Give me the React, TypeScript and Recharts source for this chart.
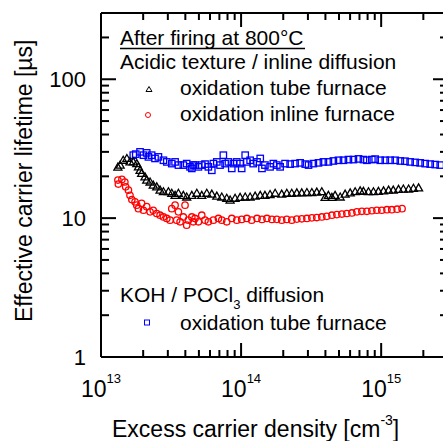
import React from "react";
import {
  ScatterChart,
  Scatter,
  XAxis,
  YAxis,
  ReferenceLine,
  Customized,
} from "recharts";

// Excess carrier density [cm^-3], effective lifetime [µs]
const kohTube: [number, number][] = [
  [1.70e13, 28.4], [1.77e13, 28.9], [1.90e13, 30.0], [2.01e13, 28.4], [2.12e13, 29.5],
  [2.18e13, 27.6], [2.30e13, 28.4], [2.43e13, 26.9], [2.57e13, 27.6], [2.79e13, 26.1],
  [2.95e13, 25.4], [3.20e13, 24.7], [3.38e13, 25.4], [3.57e13, 24.1], [3.87e13, 24.1],
  [4.09e13, 24.7], [4.32e13, 23.4], [4.45e13, 22.8], [4.56e13, 24.1], [4.69e13, 24.1],
  [4.96e13, 23.4], [5.24e13, 24.1], [5.53e13, 24.5], [5.84e13, 23.4], [6.18e13, 22.1],
  [6.34e13, 24.7], [6.71e13, 25.4], [7.08e13, 24.1], [7.47e13, 28.4], [7.69e13, 24.7],
  [8.12e13, 25.4], [8.58e13, 22.8], [8.81e13, 24.7], [9.32e13, 25.4], [9.84e13, 24.7],
  [1.01e14, 22.8], [1.07e14, 28.4], [1.10e14, 25.4], [1.16e14, 26.1], [1.22e14, 24.7],
  [1.30e14, 25.4], [1.37e14, 26.9], [1.41e14, 22.8], [1.48e14, 24.1], [1.61e14, 23.4],
  [1.70e14, 24.7], [1.80e14, 24.1], [1.90e14, 23.4], [2.06e14, 24.7], [2.24e14, 24.5],
  [2.43e14, 24.7], [2.64e14, 25.0], [2.87e14, 24.5], [3.03e14, 24.1], [3.28e14, 24.7],
  [3.57e14, 25.0], [3.87e14, 25.4], [4.20e14, 25.4], [4.56e14, 25.8], [4.96e14, 26.1],
  [5.38e14, 26.1], [5.84e14, 26.4], [6.34e14, 26.4], [6.89e14, 26.7], [7.47e14, 26.4],
  [7.91e14, 26.1], [8.58e14, 26.4], [9.06e14, 26.6], [9.84e14, 26.1], [1.07e15, 26.1],
  [1.16e15, 26.1], [1.26e15, 26.1], [1.37e15, 25.8], [1.48e15, 25.7], [1.61e15, 25.4],
  [1.75e15, 25.2], [1.90e15, 25.0], [2.06e15, 24.7], [2.24e15, 24.5], [2.43e15, 24.3],
  [2.64e15, 24.1],
];

const acidicTube: [number, number][] = [
  [1.32e13, 23.3], [1.37e13, 24.1], [1.44e13, 26.1], [1.53e13, 26.9], [1.61e13, 25.4],
  [1.70e13, 25.4], [1.80e13, 24.7], [1.85e13, 23.4], [1.90e13, 22.1], [1.95e13, 21.0],
  [2.06e13, 19.8], [2.12e13, 18.8], [2.24e13, 18.2], [2.36e13, 17.3], [2.50e13, 16.8],
  [2.64e13, 15.9], [2.79e13, 15.5], [3.03e13, 15.5], [3.20e13, 15.1], [3.38e13, 14.6],
  [3.57e13, 15.1], [3.87e13, 14.6], [4.09e13, 14.2], [4.45e13, 14.6], [4.83e13, 15.1],
  [5.24e13, 14.6], [5.69e13, 15.1], [6.18e13, 14.9], [6.71e13, 14.4], [7.28e13, 14.2],
  [7.90e13, 13.9], [8.35e13, 13.5], [9.06e13, 13.9], [9.84e13, 14.1], [1.07e14, 14.2],
  [1.16e14, 14.2], [1.26e14, 14.4], [1.37e14, 14.6], [1.48e14, 14.6], [1.61e14, 14.8],
  [1.75e14, 15.1], [1.95e14, 14.9], [2.12e14, 15.1], [2.30e14, 15.1], [2.50e14, 15.2],
  [2.71e14, 15.2], [2.95e14, 15.3], [3.20e14, 15.3], [3.47e14, 15.4], [3.77e14, 15.5],
  [3.98e14, 14.1], [4.20e14, 14.6], [4.45e14, 14.1], [4.69e14, 14.6], [5.10e14, 14.2],
  [5.53e14, 14.9], [6.01e14, 15.2], [6.52e14, 15.5], [7.08e14, 15.7], [7.47e14, 15.6],
  [8.12e14, 15.5], [8.81e14, 15.5], [9.56e14, 15.6], [1.04e15, 15.7], [1.13e15, 15.9],
  [1.22e15, 15.9], [1.33e15, 16.1], [1.44e15, 16.2], [1.57e15, 16.2], [1.70e15, 16.4],
  [1.85e15, 16.5],
];

const acidicInline: [number, number][] = [
  [1.32e13, 18.8], [1.33e13, 17.6], [1.41e13, 19.0], [1.48e13, 18.2], [1.50e13, 16.8],
  [1.57e13, 15.9], [1.61e13, 14.6], [1.66e13, 13.6], [1.75e13, 13.1], [1.80e13, 12.4],
  [1.85e13, 11.7], [1.95e13, 12.8], [2.01e13, 11.4], [2.12e13, 12.1], [2.24e13, 11.1],
  [2.36e13, 11.4], [2.50e13, 10.8], [2.64e13, 10.5], [2.79e13, 10.2], [2.95e13, 9.95],
  [3.11e13, 9.67], [3.20e13, 11.7], [3.38e13, 12.4], [3.47e13, 9.67], [3.57e13, 11.1],
  [3.67e13, 9.41], [3.87e13, 10.2], [3.98e13, 12.4], [4.09e13, 8.90], [4.20e13, 9.67],
  [4.45e13, 10.2], [4.56e13, 9.41], [4.69e13, 9.95], [4.96e13, 9.41], [5.24e13, 10.5],
  [5.53e13, 9.67], [5.84e13, 9.41], [6.34e13, 9.67], [6.89e13, 9.95], [7.28e13, 9.67],
  [7.90e13, 9.41], [8.58e13, 9.95], [9.32e13, 9.67], [1.01e14, 9.79], [1.10e14, 9.95],
  [1.19e14, 9.67], [1.30e14, 9.95], [1.41e14, 9.79], [1.53e14, 9.95], [1.66e14, 9.79],
  [1.80e14, 9.80], [1.95e14, 9.67], [2.12e14, 9.79], [2.30e14, 9.67], [2.50e14, 9.84],
  [2.71e14, 9.89], [2.95e14, 9.95], [3.20e14, 10.05], [3.47e14, 10.1], [3.77e14, 10.2],
  [4.09e14, 10.3], [4.45e14, 10.5], [4.83e14, 10.6], [5.24e14, 10.7], [5.69e14, 10.8],
  [6.18e14, 10.9], [6.71e14, 11.1], [7.28e14, 11.2], [7.91e14, 11.2], [8.58e14, 11.3],
  [9.32e14, 11.4], [1.01e15, 11.4], [1.10e15, 11.5], [1.19e15, 11.5], [1.30e15, 11.6],
  [1.41e15, 11.7],
];

const xMajorTicks = [1e13, 1e14, 1e15];
const xTicks = [
  1e13, 2e13, 3e13, 4e13, 5e13, 6e13, 7e13, 8e13, 9e13,
  1e14, 2e14, 3e14, 4e14, 5e14, 6e14, 7e14, 8e14, 9e14,
  1e15, 2e15, 3e15,
];
const yMajorTicks = [1, 10, 100];
const yTicks = [1, 2, 3, 4, 5, 6, 7, 8, 9, 10, 20, 30, 40, 50, 60, 70, 80, 90, 100, 200, 300];
const xDomain = [1e13, 3e15];
const yDomain = [1, 300];

const FONT = "'Liberation Sans', Arial, Helvetica, sans-serif";
const W = 460;
const H = 441;
const MARGIN = { top: 13, right: 12, bottom: 54, left: 41 };
const XAXIS_H = 30;
const YAXIS_W = 60;
const PLOT_H = H - MARGIN.top - MARGIN.bottom - XAXIS_H;
const PLOT_W = W - MARGIN.left - MARGIN.right - YAXIS_W;

const toRows = (arr: [number, number][]) => arr.map(([n, tau]) => ({ n, tau }));

const isMajor = (v: number, majors: number[]) =>
  majors.some((m) => Math.abs(v / m - 1) < 1e-9);

const XTick = (props: any) => {
  const { x, y, payload } = props;
  const v = payload.value;
  const major = isMajor(v, xMajorTicks);
  const len = major ? 14 : 7;
  const exp = Math.round(Math.log10(v));
  return (
    <g>
      <line x1={x} x2={x} y1={y} y2={y - len} stroke="#000" strokeWidth={2} />
      <line x1={x} x2={x} y1={y - PLOT_H} y2={y - PLOT_H + len} stroke="#000" strokeWidth={2} />
      {major && (
        <text x={x} y={y + 40} textAnchor="middle" fontFamily={FONT} fontSize={23} fill="#000">
          10
          <tspan dy={-14} fontSize={13}>
            {exp}
          </tspan>
        </text>
      )}
    </g>
  );
};

const YTick = (props: any) => {
  const { x, y, payload } = props;
  const v = payload.value;
  const major = isMajor(v, yMajorTicks);
  const len = major ? 15 : 8;
  return (
    <g>
      <line x1={x} x2={x + len} y1={y} y2={y} stroke="#000" strokeWidth={2} />
      <line x1={x + PLOT_W} x2={x + PLOT_W - len} y1={y} y2={y} stroke="#000" strokeWidth={2} />
      {major && (
        <text x={x - 15} y={y + 8} textAnchor="end" fontFamily={FONT} fontSize={22} fill="#000">
          {v}
        </text>
      )}
    </g>
  );
};

const Triangle = (props: any) => {
  const { cx, cy } = props;
  if (cx == null || cy == null) return null;
  const s = 4;
  return (
    <polygon
      points={`${cx},${cy - s} ${cx + s},${cy + s * 0.75} ${cx - s},${cy + s * 0.75}`}
      fill="none"
      stroke="#000"
      strokeWidth={1.3}
    />
  );
};

const Circle = (props: any) => {
  const { cx, cy } = props;
  if (cx == null || cy == null) return null;
  return <circle cx={cx} cy={cy} r={3.2} fill="none" stroke="#ff0000" strokeWidth={1.3} />;
};

const Square = (props: any) => {
  const { cx, cy } = props;
  if (cx == null || cy == null) return null;
  return (
    <rect x={cx - 3.2} y={cy - 3.2} width={6.4} height={6.4} fill="none" stroke="#0000ff" strokeWidth={1.3} />
  );
};

const Annotations = () => (
  <g fontFamily={FONT} fill="#000">
    <text x={120} y={45} fontSize={21}>After firing at 800°C</text>
    <line x1={120} x2={305} y1={48.5} y2={48.5} stroke="#000" strokeWidth={1.5} />
    <text x={120} y={69} fontSize={21}>Acidic texture / inline diffusion</text>
    <polygon points="149,86.5 152,91.5 146,91.5" fill="none" stroke="#000" strokeWidth={1} />
    <text x={180} y={95} fontSize={21}>oxidation tube furnace</text>
    <circle cx={148} cy={115} r={2.5} fill="none" stroke="#ff0000" strokeWidth={1} />
    <text x={180} y={121} fontSize={21}>oxidation inline furnace</text>
    <text x={120} y={302} fontSize={21}>
      KOH / POCl
      <tspan dy={7} fontSize={13}>3</tspan>
      <tspan dy={-7}>{" diffusion"}</tspan>
    </text>
    <rect x={144.5} y={320} width={5} height={5} fill="none" stroke="#0000ff" strokeWidth={1} />
    <text x={180} y={330} fontSize={21}>oxidation tube furnace</text>
    <text x={112} y={437} fontSize={23}>
      Excess carrier density [cm
      <tspan dy={-12} fontSize={14}>-3</tspan>
      <tspan dy={12}>]</tspan>
    </text>
    <text transform="translate(32,322) rotate(-90)" x={0} y={0} fontSize={23}>
      Effective carrier lifetime [µs]
    </text>
  </g>
);

export default function App() {
  return (
    <div
      style={{
        position: "fixed",
        left: 0,
        top: 0,
        width: 443,
        height: 441,
        overflow: "hidden",
        background: "#fff",
      }}
    >
      <ScatterChart width={W} height={H} margin={MARGIN}>
        <XAxis
          dataKey="n"
          type="number"
          scale="log"
          domain={xDomain}
          allowDataOverflow
          ticks={xTicks}
          interval={0}
          height={XAXIS_H}
          tickSize={0}
          tickMargin={0}
          tickLine={false}
          axisLine={{ stroke: "#000", strokeWidth: 2 }}
          tick={<XTick />}
        />
        <YAxis
          dataKey="tau"
          type="number"
          scale="log"
          domain={yDomain}
          allowDataOverflow
          ticks={yTicks}
          interval={0}
          width={YAXIS_W}
          tickSize={0}
          tickMargin={0}
          tickLine={false}
          axisLine={{ stroke: "#000", strokeWidth: 2 }}
          tick={<YTick />}
        />
        <ReferenceLine y={300} stroke="#000" strokeWidth={2} />
        <ReferenceLine x={3e15} stroke="#000" strokeWidth={2} />
        <Scatter data={toRows(kohTube)} shape={<Square />} isAnimationActive={false} />
        <Scatter data={toRows(acidicTube)} shape={<Triangle />} isAnimationActive={false} />
        <Scatter data={toRows(acidicInline)} shape={<Circle />} isAnimationActive={false} />
        <Customized component={<Annotations />} />
      </ScatterChart>
    </div>
  );
}
